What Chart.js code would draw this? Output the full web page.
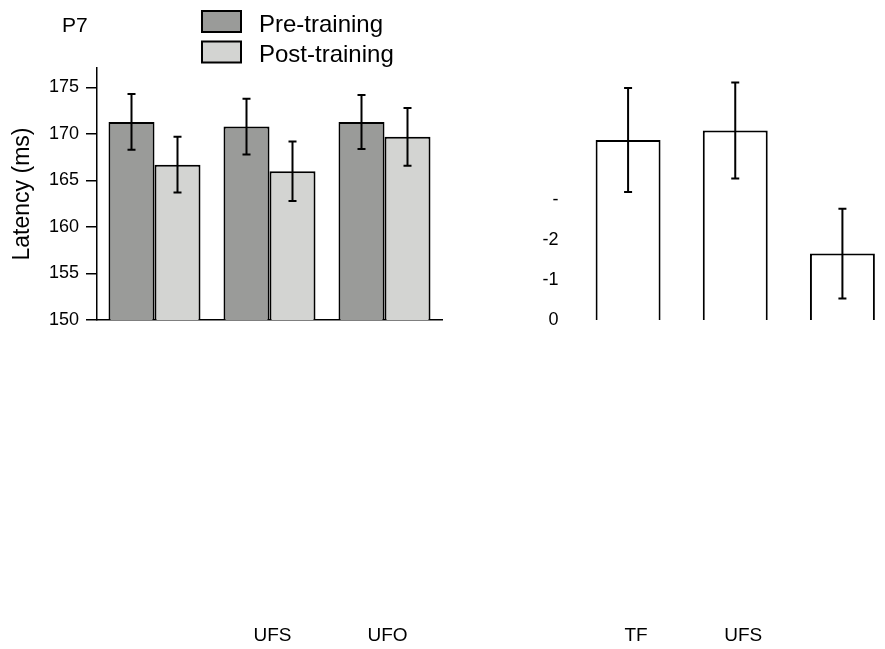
<!DOCTYPE html>
<html>
<head>
<meta charset="utf-8">
<script src="https://cdn.jsdelivr.net/npm/chart.js@4.4.1/dist/chart.umd.min.js"></script>
<style>
  body { margin: 0; background: #fff; overflow: hidden; width: 885px; height: 649px; position: relative; }
  canvas { position: absolute; top: 0; }
  #left { left: 0; }
  #right { left: 450px; }
</style>
</head>
<body>
<canvas id="left" width="450" height="649"></canvas>
<canvas id="right" width="446" height="649"></canvas>
<script>
// left panel data
var panelTitle = 'P7';
var leftCategories = ['', 'UFS', 'UFO'];
var preTraining = [171.3, 170.8, 171.3];
var preErrors = [3.0, 3.0, 2.9];
var postTraining = [166.7, 166.0, 169.7];
var postErrors = [3.0, 3.2, 3.1];
var leftTicks = [150, 155, 160, 165, 170, 175];

// right panel data
var rightCategories = ['TF', 'UFS', ''];
var rightValues = [4.5, 4.74, 1.66];
var rightErrors = [1.3, 1.2, 1.12];
var rightTicks = [0, 1, 2, 3];
var rightTickLabels = ['0', '-1', '-2', '-'];

var FONT = '"Liberation Sans", Arial, Helvetica, sans-serif';
Chart.defaults.font.family = FONT;
Chart.defaults.color = '#000';

var errorBars = {
  id: 'errorBars',
  afterDatasetsDraw: function(chart) {
    var ctx = chart.ctx, yScale = chart.scales.y;
    ctx.save();
    ctx.strokeStyle = '#000';
    ctx.lineWidth = 2;
    chart.data.datasets.forEach(function(ds, di) {
      if (!ds.errors) return;
      chart.getDatasetMeta(di).data.forEach(function(bar, i) {
        var v = ds.data[i], e = ds.errors[i];
        var top = yScale.getPixelForValue(v + e);
        var bot = yScale.getPixelForValue(v - e);
        ctx.beginPath();
        ctx.moveTo(bar.x, top); ctx.lineTo(bar.x, bot);
        ctx.moveTo(bar.x - 4, top); ctx.lineTo(bar.x + 4, top);
        ctx.moveTo(bar.x - 4, bot); ctx.lineTo(bar.x + 4, bot);
        ctx.stroke();
      });
    });
    ctx.restore();
  }
};

// panel label + stacked legend above the left plot
var panelLegend = {
  id: 'panelLegend',
  afterDraw: function(chart) {
    var ctx = chart.ctx;
    ctx.save();
    ctx.fillStyle = '#000';
    ctx.font = '21px ' + FONT;
    ctx.fillText(panelTitle, 62, 32);
    ctx.font = '24px ' + FONT;
    chart.data.datasets.forEach(function(ds, i) {
      var y = 11 + i * 30.5;
      ctx.fillStyle = ds.backgroundColor;
      ctx.fillRect(202, y, 39, 21);
      ctx.strokeStyle = '#000';
      ctx.lineWidth = 2;
      ctx.strokeRect(202, y, 39, 21);
      ctx.fillStyle = '#000';
      ctx.fillText(ds.label, 259, y + 20.5);
    });
    ctx.restore();
  }
};

var leftChart = new Chart(document.getElementById('left'), {
  type: 'bar',
  data: {
    labels: leftCategories,
    datasets: [{
      label: 'Pre-training',
      data: preTraining,
      errors: preErrors,
      backgroundColor: '#9a9b99',
      borderColor: '#000',
      borderWidth: 2
    }, {
      label: 'Post-training',
      data: postTraining,
      errors: postErrors,
      backgroundColor: '#d3d4d2',
      borderColor: '#000',
      borderWidth: 2
    }]
  },
  options: {
    responsive: false,
    animation: false,
    layout: { padding: { top: 68, left: 0, right: 8, bottom: 0 } },
    plugins: { legend: { display: false }, tooltip: { enabled: false } },
    datasets: { bar: { categoryPercentage: 0.8, barPercentage: 1.0 } },
    scales: {
      x: {
        grid: { display: false, drawTicks: false },
        border: { display: true, color: '#000', width: 1.5 },
        ticks: { font: { size: 19 }, padding: 304, labelOffset: 3, maxRotation: 0, minRotation: 0, autoSkip: false },
        afterFit: function(axis) { axis.height = 329; axis.paddingLeft = 0; axis.paddingRight = 0; }
      },
      y: {
        min: 150,
        max: 177.1,
        afterBuildTicks: function(axis) {
          axis.ticks = leftTicks.map(function(v) { return { value: v }; });
        },
        grid: { drawOnChartArea: false, drawTicks: true, tickLength: 11, color: '#000', lineWidth: 1.5 },
        border: { display: true, color: '#000', width: 1.5 },
        ticks: { font: { size: 18 }, padding: 7 },
        title: { display: true, text: 'Latency (ms)', font: { size: 23 }, padding: { top: 9, bottom: 0 } },
        afterFit: function(axis) { axis.width = 97; }
      }
    }
  },
  plugins: [errorBars, panelLegend]
});

var rightChart = new Chart(document.getElementById('right'), {
  type: 'bar',
  data: {
    labels: rightCategories,
    datasets: [{
      label: 'value',
      data: rightValues,
      errors: rightErrors,
      backgroundColor: '#fff',
      borderColor: '#000',
      borderWidth: 2
    }]
  },
  options: {
    responsive: false,
    animation: false,
    layout: { padding: { top: 68, left: 0, right: 0, bottom: 0 } },
    plugins: { legend: { display: false }, tooltip: { enabled: false } },
    datasets: { bar: { categoryPercentage: 0.606, barPercentage: 1.0 } },
    scales: {
      x: {
        grid: { display: false, drawTicks: false },
        border: { display: false },
        ticks: { font: { size: 19 }, padding: 304, labelOffset: 8, maxRotation: 0, minRotation: 0, autoSkip: false },
        afterFit: function(axis) { axis.height = 329; axis.paddingLeft = 0; axis.paddingRight = 0; }
      },
      y: {
        min: 0,
        max: 6.3,
        afterBuildTicks: function(axis) {
          axis.ticks = rightTicks.map(function(v) { return { value: v }; });
        },
        grid: { display: false, drawTicks: false },
        border: { display: false },
        ticks: {
          font: { size: 18 },
          padding: 16,
          callback: function(value) { return rightTickLabels[rightTicks.indexOf(value)]; }
        },
        afterFit: function(axis) { axis.width = 124.5; }
      }
    }
  },
  plugins: [errorBars]
});
</script>
</body>
</html>
